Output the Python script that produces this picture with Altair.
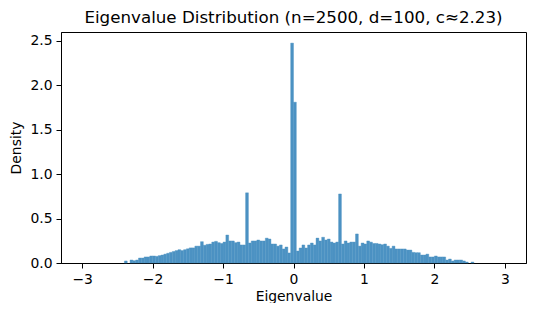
import altair as alt
import numpy as np
import pandas as pd

# Histogram definition (150 bins over [-3, 3])
bin_lo = -3.0
bin_hi = 3.0
n_bins = 150

# Density per bin (bins 0..149)
left_empty = [0.0] * 15
tail_left = [0.023, 0.0, 0.034, 0.026, 0.034, 0.056, 0.056, 0.068, 0.068, 0.079,
             0.079, 0.075, 0.083, 0.09, 0.10, 0.11, 0.12, 0.13, 0.14, 0.15,
             0.14, 0.15, 0.16, 0.17, 0.17, 0.19, 0.19, 0.24, 0.20, 0.21]
middle_left = [0.214, 0.236, 0.244, 0.229, 0.22, 0.236, 0.315, 0.248, 0.248, 0.229,
               0.236, 0.203, 0.203, 0.79, 0.225, 0.248, 0.248, 0.259, 0.248, 0.248,
               0.28, 0.27, 0.214, 0.214, 0.19, 0.203, 0.158, 0.18, 0.113]
center = [2.475, 1.81]
middle_right = [0.135, 0.169, 0.203, 0.169, 0.203, 0.225, 0.203, 0.28, 0.248, 0.29,
                0.259, 0.27, 0.236, 0.225, 0.236, 0.777, 0.214, 0.248, 0.225, 0.236,
                0.236, 0.327, 0.19, 0.225, 0.214, 0.248, 0.235]
tail_right = [0.22, 0.22, 0.214, 0.206, 0.214, 0.19, 0.165, 0.19, 0.158, 0.158,
              0.158, 0.158, 0.146, 0.146, 0.12, 0.116, 0.116, 0.09, 0.09, 0.10,
              0.068, 0.068, 0.079, 0.068, 0.068, 0.068, 0.034, 0.045, 0.023, 0.034,
              0.034, 0.034, 0.023, 0.011, 0.0, 0.011]
right_empty = [0.0] * 11

density = left_empty + tail_left + middle_left + center + middle_right + tail_right + right_empty
density = density[:n_bins] + [0.0] * max(0, n_bins - len(density))

x_ticks = [-3, -2, -1, 0, 1, 2, 3]
y_ticks = [0.0, 0.5, 1.0, 1.5, 2.0, 2.5]
title_text = "Eigenvalue Distribution (n=2500, d=100, c≈2.23)"

edges = np.linspace(bin_lo, bin_hi, n_bins + 1)
df = pd.DataFrame({"x0": edges[:-1], "x1": edges[1:], "density": density})

font = "DejaVu Sans"
bar_color = "#4c92c3"

chart = alt.Chart(df).transform_filter(
    alt.datum.density > 0
).mark_rect(color=bar_color, stroke=bar_color, strokeWidth=0.4).encode(
    x=alt.X("x0:Q",
            scale=alt.Scale(domain=[-3.3, 3.3], nice=False, zero=False),
            axis=alt.Axis(values=x_ticks, format="d", title="Eigenvalue", titlePadding=4)),
    x2="x1:Q",
    y=alt.Y("density:Q",
            scale=alt.Scale(domain=[0, 2.6], nice=False),
            axis=alt.Axis(values=y_ticks, format=".1f", title="Density", titlePadding=6)),
    y2=alt.datum(0),
).properties(
    width=465,
    height=231,
    title=alt.Title(title_text, fontSize=16.7, font=font, fontWeight="normal",
                    color="black", offset=5, anchor="middle"),
    autosize=alt.AutoSizeParams(type="none"),
    padding={"left": 53, "top": 24, "right": 2, "bottom": 40},
).configure_view(
    stroke="black", strokeWidth=1
).configure_axis(
    grid=False,
    domainColor="black", domainWidth=1,
    tickColor="black", tickWidth=1, tickSize=5,
    labelColor="black", titleColor="black",
    labelFont=font, titleFont=font,
    labelFontSize=13.9, titleFontSize=13.9, titleFontWeight="normal",
    labelPadding=4,
)

chart.save("out.html", embed_options={"renderer": "svg", "actions": False})
